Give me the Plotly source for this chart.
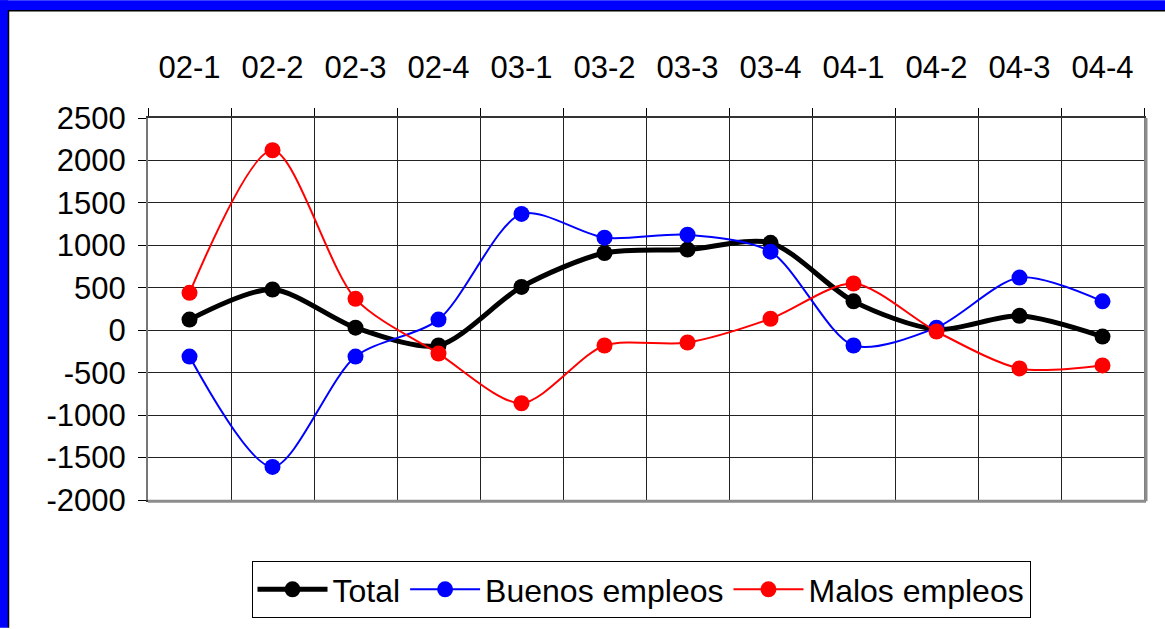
import plotly.graph_objects as go

categories = ["02-1", "02-2", "02-3", "02-4", "03-1", "03-2", "03-3", "03-4",
              "04-1", "04-2", "04-3", "04-4"]
total = [125, 480, 30, -180, 510, 910, 950, 1030, 340, 10, 170, -75]
buenos = [-310, -1610, -310, 125, 1370, 1090, 1125, 925, -180, 30, 620, 340]
malos = [440, 2120, 370, -275, -860, -180, -145, 135, 550, -15, -450, -415]
y_ticks = [-2000, -1500, -1000, -500, 0, 500, 1000, 1500, 2000, 2500]
y_tick_labels = ["-2000", "-1500", "-1000", "-500", "0", "500", "1000", "1500", "2000", "2500"]

W, H = 1165, 629
L, R, T, B = 148, 21, 118, 128
pw, ph = W - L - R, H - T - B

def px(x):
    return (x - L) / pw

def py(y):
    return (H - B - y) / ph

FONT = "Arial, Liberation Sans, sans-serif"
FS = 31

fig = go.Figure()
fig.add_trace(go.Scatter(x=categories, y=total, name="Total", mode="lines+markers",
                         line=dict(color="black", width=5, shape="spline", smoothing=0.8),
                         marker=dict(color="black", size=16)))
fig.add_trace(go.Scatter(x=categories, y=buenos, name="Buenos empleos", mode="lines+markers",
                         line=dict(color="#0000FF", width=2, shape="spline", smoothing=0.8),
                         marker=dict(color="#0000FF", size=16)))
fig.add_trace(go.Scatter(x=categories, y=malos, name="Malos empleos", mode="lines+markers",
                         line=dict(color="#FF0000", width=2, shape="spline", smoothing=0.8),
                         marker=dict(color="#FF0000", size=16)))

shapes = [
    dict(type="rect", xref="paper", yref="paper", x0=px(0), x1=px(W), y0=py(0), y1=py(10),
         fillcolor="#0000FF", line=dict(width=0), layer="below"),
    dict(type="rect", xref="paper", yref="paper", x0=px(0), x1=px(8), y0=py(0), y1=py(H),
         fillcolor="#0000FF", line=dict(width=0), layer="below"),
    dict(type="line", xref="paper", yref="paper", x0=px(8), x1=px(W), y0=py(10.5), y1=py(10.5),
         line=dict(color="black", width=1.5)),
    dict(type="line", xref="paper", yref="paper", x0=px(8.5), x1=px(8.5), y0=py(10), y1=py(H),
         line=dict(color="black", width=1.5)),
    dict(type="line", xref="paper", yref="paper", x0=0, x1=1.002, y0=-0.003, y1=-0.003,
         line=dict(color="#8c8c8c", width=3)),
    dict(type="line", xref="paper", yref="paper", x0=1.002, x1=1.002, y0=-0.003, y1=1,
         line=dict(color="#8c8c8c", width=3)),
]

fig.update_layout(
    width=W, height=H,
    margin=dict(l=L, r=R, t=T, b=B),
    paper_bgcolor="white", plot_bgcolor="white",
    font=dict(family=FONT, size=FS, color="black"),
    showlegend=True,
    legend=dict(orientation="h", x=px(641), xanchor="center", y=py(561), yanchor="top",
                bordercolor="black", borderwidth=1, bgcolor="white",
                font=dict(family=FONT, size=32), itemwidth=70, tracegroupgap=0),
    shapes=shapes,
    xaxis=dict(side="top", type="category", tickson="boundaries", ticks="outside",
               ticklen=8, tickcolor="black", showgrid=True, gridcolor="#222222", gridwidth=1,
               showline=True, linecolor="#333333", linewidth=2, mirror=True,
               tickfont=dict(size=FS), range=[-0.5, 11.5], ticklabelstandoff=26),
    yaxis=dict(range=[-2000, 2500], tickvals=y_ticks, ticktext=y_tick_labels,
               ticks="outside", ticklen=8, tickcolor="black",
               showgrid=True, gridcolor="#222222", gridwidth=1, zeroline=False,
               showline=True, linecolor="#777777", linewidth=2, mirror=True,
               tickfont=dict(size=FS), ticklabelstandoff=6),
)

fig.write_html("out.html", config={"displayModeBar": False},
               post_script="document.body.style.margin='0';document.body.style.overflow='hidden';")
